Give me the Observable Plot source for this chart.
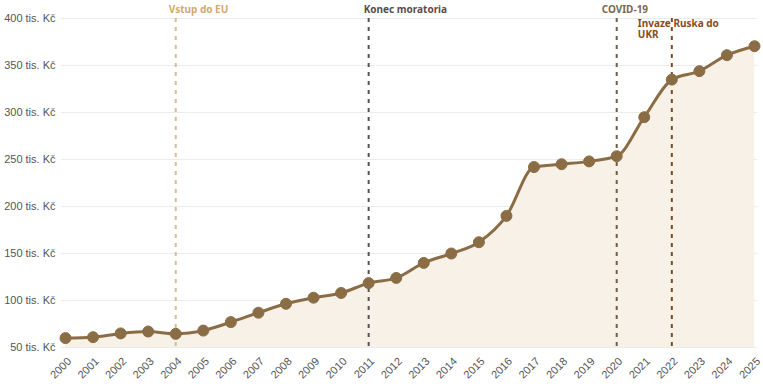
<!DOCTYPE html>
<html>
<head>
<meta charset="utf-8">
<script src="https://cdn.jsdelivr.net/npm/d3@7"></script>
<script src="https://cdn.jsdelivr.net/npm/@observablehq/plot@0.6"></script>
<style>
  html, body { margin: 0; padding: 0; background: #fff; }
  #chart svg { display: block; }
</style>
</head>
<body>
<div id="chart"></div>
<script>
const years = [2000, 2001, 2002, 2003, 2004, 2005, 2006, 2007, 2008, 2009, 2010, 2011, 2012,
               2013, 2014, 2015, 2016, 2017, 2018, 2019, 2020, 2021, 2022, 2023, 2024, 2025];
const values = [60, 61, 65, 67, 64.5, 68, 77, 87, 96.5, 103, 108, 118.5, 124,
                140, 150, 162, 190, 242, 245, 248, 253.5, 295, 335, 344, 361, 370.5];
const eventYears = [2004, 2011, 2020, 2022];
const eventLabels = ["Vstup do EU", "Konec moratoria", "COVID-19", "Invaze Ruska do\nUKR"];
const yTicks = [50, 100, 150, 200, 250, 300, 350, 400];

const data = years.map((year, i) => ({year, value: values[i]}));
const events = eventYears.map((year, i) => ({year, label: eventLabels[i]}));

// styling for each annotation (colour, label offsets)
const eventStyle = [
  {line: "#d9bb94", text: "#d2a972", dx: -7, dy: -6, lineAnchor: "bottom"},
  {line: "#585454", text: "#5b4c4c", dx: -5, dy: -6, lineAnchor: "bottom"},
  {line: "#6f5e4a", text: "#7b6952", dx: -15, dy: -6, lineAnchor: "bottom"},
  {line: "#7d4b22", text: "#8a4b1c", dx: -34, dy: 1, lineAnchor: "top"}
];

const brown = "#8b6d45";
const yMin = yTicks[0], yMax = yTicks[yTicks.length - 1];

const chart = Plot.plot({
  width: 763,
  height: 386,
  marginLeft: 61,
  marginRight: 6,
  marginTop: 18,
  marginBottom: 39,
  style: {fontFamily: "'Liberation Sans', Arial, sans-serif", fontSize: "11px", color: "#555", background: "#fff"},
  x: {domain: [years[0], years[years.length - 1]], insetLeft: 4, insetRight: 3, ticks: years, tickFormat: d => String(d)},
  y: {domain: [yMin, yMax], ticks: yTicks, tickFormat: d => `${d} tis. Kč`},
  marks: [
    Plot.gridY(yTicks, {stroke: "#ececec", strokeOpacity: 1, strokeWidth: 1}),
    Plot.areaY(data, {x: "year", y1: () => yMin, y2: "value", curve: "monotone-x", fill: "#f7f1e8"}),
    ...events.map((e, i) => Plot.ruleX([e], {x: "year", stroke: eventStyle[i].line, strokeWidth: 2, strokeDasharray: "4,5"})),
    Plot.line(data, {x: "year", y: "value", curve: "monotone-x", stroke: brown, strokeWidth: 3}),
    Plot.dot(data, {x: "year", y: "value", r: 5.5, fill: brown, stroke: brown, strokeWidth: 1}),
    ...events.map((e, i) => Plot.text([e], {
      x: "year", text: "label", frameAnchor: "top", textAnchor: "start",
      dx: eventStyle[i].dx, dy: eventStyle[i].dy, lineAnchor: eventStyle[i].lineAnchor,
      lineHeight: 1.1,
      fill: eventStyle[i].text, fontWeight: "bold", fontSize: 10,
      fontFamily: "'Noto Sans', sans-serif"
    })),
    Plot.axisY({ticks: yTicks, tickFormat: d => `${d} tis. Kč`, tickSize: 0, tickPadding: 6, label: null, fill: "#555", fontFamily: "'Liberation Sans', Arial, sans-serif", fontSize: 11}),
    Plot.axisX({ticks: years, tickFormat: d => String(d), tickSize: 0, tickPadding: 6, tickRotate: -45, dx: 4, dy: 6, label: null, fill: "#555", fontFamily: "'Liberation Sans', Arial, sans-serif", fontSize: 11})
  ]
});
document.getElementById("chart").appendChild(chart);
</script>
</body>
</html>
